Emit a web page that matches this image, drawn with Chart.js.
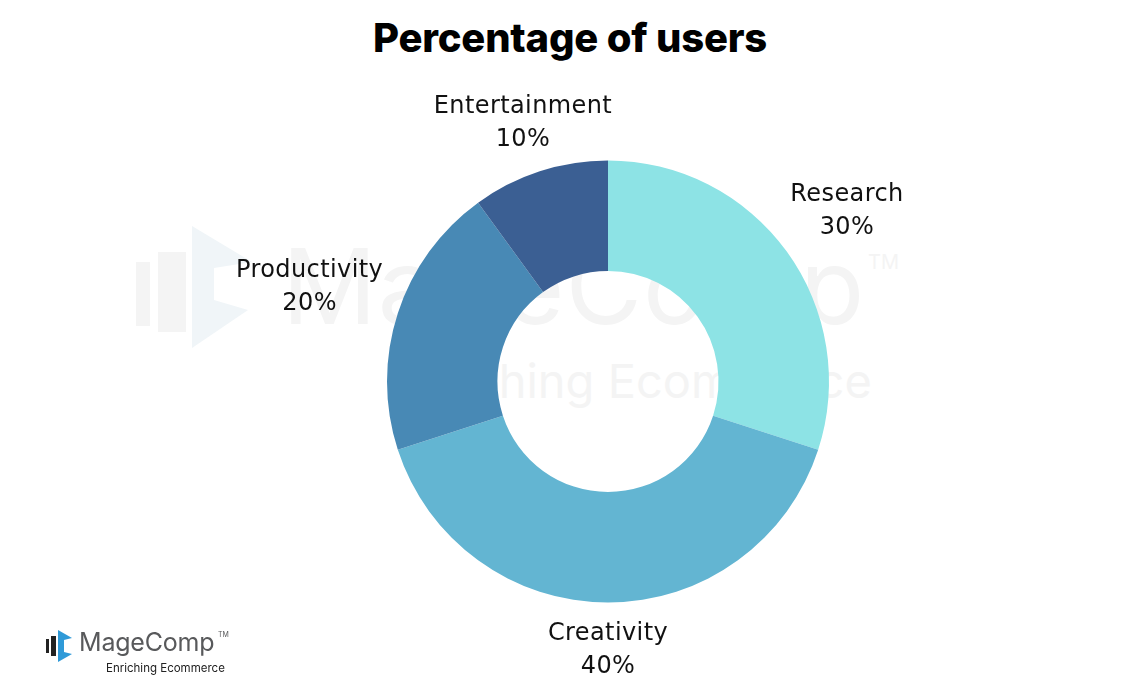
<!DOCTYPE html>
<html>
<head>
<meta charset="utf-8">
<script src="https://cdn.jsdelivr.net/npm/chart.js@4.4.1/dist/chart.umd.min.js"></script>
<style>
  html, body { margin: 0; padding: 0; background: #fff; }
  body { width: 1134px; height: 698px; position: relative; overflow: hidden; font-family: Inter, "Noto Sans", sans-serif; }
  .title { position: absolute; left: 0; width: 1140px; top: 12px; text-align: center; font-size: 40px; font-weight: 800; color: #000; margin: 0; letter-spacing: -0.2px; line-height: 52px; }
  .watermark { position: absolute; left: 0; top: 0; width: 1134px; height: 698px; color: #f4f4f4; }
  .wm-name { position: absolute; left: 282px; top: 222px; font-size: 105px; font-weight: 400; letter-spacing: 1px; }
  .wm-tm { position: absolute; left: 868px; top: 250px; font-size: 20px; }
  .wm-tag { position: absolute; left: 386px; top: 352px; font-size: 47px; }
  .logo { position: absolute; left: 46px; top: 626px; }
  .logo-name { position: absolute; left: 33px; top: 1px; font-size: 25px; color: #58595b; white-space: nowrap; letter-spacing: -0.2px; }
  .logo-tm { position: absolute; left: 172px; top: 4px; font-size: 7px; color: #58595b; }
  .logo-tag { position: absolute; left: 60px; top: 35px; font-size: 11.5px; color: #222; white-space: nowrap; }
  canvas { position: absolute; left: 0; top: 0; }
</style>
</head>
<body>
<div class="watermark">
  <svg style="position:absolute;left:136px;top:226px" width="120" height="122" viewBox="0 0 120 122">
    <rect x="0" y="36" width="14" height="64" fill="#f4f4f4"/>
    <rect x="22" y="26" width="28" height="80" fill="#f4f4f4"/>
    <polygon points="56,0 116,36 78,42 78,74 112,84 56,122" fill="#f0f5f8"/>
  </svg>
  <div class="wm-name">MageComp</div>
  <div class="wm-tm">TM</div>
  <div class="wm-tag">Enriching Ecommerce</div>
</div>
<h1 class="title">Percentage of users</h1>
<canvas id="usersChart" width="1134" height="698"></canvas>
<div class="logo">
  <svg width="30" height="34" viewBox="0 0 30 34" style="position:absolute;left:0;top:4px">
    <rect x="0" y="9" width="3" height="14" fill="#222"/>
    <rect x="5" y="6" width="5" height="20" fill="#222"/>
    <polygon points="12,0 26,8 18,10 18,22 26,24 12,32" fill="#2f9ad8"/>
  </svg>
  <div class="logo-name">MageComp</div>
  <div class="logo-tm">TM</div>
  <div class="logo-tag">Enriching Ecommerce</div>
</div>
<script>
const categories = ['Research', 'Creativity', 'Productivity', 'Entertainment'];
const shares = [30, 40, 20, 10];
const sliceColors = ['#8de3e5', '#63b5d2', '#4889b5', '#3b5f93'];

const labelFont = '400 24px "DejaVu Sans", Inter, sans-serif';

// outside labels, placed from each arc's own geometry
const outsideLabels = {
    id: 'outsideLabels',
    afterDatasetsDraw(chart) {
        const { ctx } = chart;
        const meta = chart.getDatasetMeta(0);
        const total = shares.reduce((a, b) => a + b, 0);
        ctx.save();
        ctx.font = labelFont;
        ctx.letterSpacing = '0.4px';
        ctx.fillStyle = '#111';
        ctx.textAlign = 'center';
        ctx.textBaseline = 'middle';
        meta.data.forEach((arc, i) => {
            const p = arc.getProps(['x', 'y', 'startAngle', 'endAngle', 'outerRadius'], true);
            const mid = (p.startAngle + p.endAngle) / 2;
            const dx = Math.cos(mid);
            const dy = Math.sin(mid);
            const lines = [categories[i], Math.round(shares[i] / total * 100) + '%'];
            const lineGap = 33;
            const halfW = Math.max(...lines.map((l) => ctx.measureText(l).width)) / 2;
            const halfH = 26;
            const dist = p.outerRadius + 86 + 0.28 * Math.abs(dx) * halfW - 1.6 * Math.abs(dy) * halfH;
            const cx = p.x + dx * dist;
            const cy = p.y + dy * dist + 3;
            ctx.fillText(lines[0], cx, cy - lineGap / 2);
            ctx.fillText(lines[1], cx, cy + lineGap / 2);
        });
        ctx.restore();
    },
};

new Chart(document.getElementById('usersChart'), {
    type: 'doughnut',
    data: {
        labels: categories,
        datasets: [{
            data: shares,
            backgroundColor: sliceColors,
            borderWidth: 0,
        }],
    },
    options: {
        responsive: false,
        animation: false,
        cutout: '50%',
        layout: { padding: { top: 160, bottom: 95, left: 387, right: 305 } },
        plugins: {
            legend: { display: false },
            tooltip: { enabled: false },
            title: { display: false },
        },
    },
    plugins: [outsideLabels],
});
</script>
</body>
</html>
